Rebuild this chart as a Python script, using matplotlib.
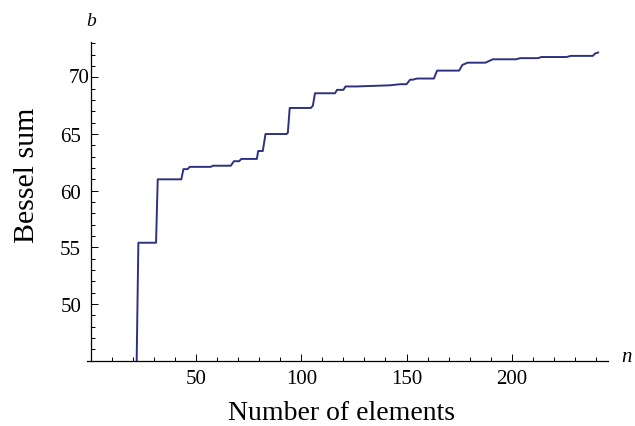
import matplotlib
matplotlib.use('Agg')
import matplotlib.pyplot as plt
from matplotlib.ticker import MultipleLocator, FuncFormatter

plt.rcParams['font.family'] = ['Liberation Serif', 'DejaVu Serif']

# (n, b) corner points of the running Bessel sum
n_vals = [21.8, 22.6, 31.0, 31.8, 43.0, 44.0, 46.0, 47.0, 57.0, 58.0,
          66.5, 68.0, 70.5, 71.5, 78.9, 79.5, 81.7, 83.0, 93.0, 93.6,
          94.5, 104.5, 105.5, 106.5, 116.0, 117.0, 120.0, 121.0, 126.0,
          142.0, 147.0, 150.0, 151.7, 153.0, 155.0, 163.0, 164.5, 175.0,
          176.5, 179.0, 187.5, 191.0, 202.0, 204.0, 212.5, 214.0, 226.0,
          228.0, 238.5, 239.5, 241.0]
b_vals = [45.0, 55.4, 55.4, 61.0, 61.0, 61.9, 61.9, 62.1, 62.1, 62.2,
          62.2, 62.6, 62.6, 62.8, 62.8, 63.5, 63.5, 65.0, 65.0, 65.1,
          67.3, 67.3, 67.5, 68.6, 68.6, 68.9, 68.9, 69.2, 69.2,
          69.3, 69.4, 69.4, 69.8, 69.8, 69.9, 69.9, 70.6, 70.6,
          71.1, 71.3, 71.3, 71.6, 71.6, 71.7, 71.7, 71.8, 71.8,
          71.9, 71.9, 72.1, 72.2]

x_ticks = [50, 100, 150, 200]
y_ticks = [50, 55, 60, 65, 70]

fig = plt.figure(figsize=(6.35, 4.27), dpi=100)
ax = fig.add_axes([87 / 635, 1 - 361.5 / 427, 521 / 635, 318.2 / 427])

ax.plot(n_vals, b_vals, color='#2e3180', linewidth=1.4, clip_on=True)

ax.set_xlim(-1.8, 245.7)
ax.set_ylim(45, 73.1)

ax.spines['top'].set_visible(False)
ax.spines['right'].set_visible(False)
ax.spines['left'].set_position(('data', 0))
for s in ('left', 'bottom'):
    ax.spines[s].set_linewidth(0.9)

ax.set_xticks(x_ticks)
ax.set_yticks(y_ticks)
ax.xaxis.set_minor_locator(MultipleLocator(10))
ax.yaxis.set_minor_locator(MultipleLocator(1))
ax.tick_params(which='both', direction='in', width=0.7, labelsize=15)
ax.tick_params(which='major', length=5)
ax.tick_params(which='minor', length=3)
ax.tick_params(axis='x', pad=6)
ax.tick_params(axis='y', pad=7)

# the "70" label sits closer to the axis in the original
ax.yaxis.set_major_formatter(FuncFormatter(lambda v, p: '' if v == 70 else f'{v:g}'))
ax.annotate('70', xy=(0, 70), xytext=(-1, 0), textcoords='offset points',
            ha='right', va='center', fontsize=15)

fig.text(27 / 635, 1 - 175 / 427, 'Bessel sum', rotation=90,
         ha='center', va='center', fontsize=21.5)
fig.text(341.5 / 635, 1 - 420 / 427, 'Number of elements',
         ha='center', va='baseline', fontsize=20)
fig.text(91 / 635, 1 - 21 / 427, 'b', style='italic',
         ha='center', va='center', fontsize=14)
fig.text(621 / 635, 1 - 362 / 427, 'n', style='italic',
         ha='left', va='baseline', fontsize=15)

fig.savefig('out.png', dpi=100, facecolor='white')
